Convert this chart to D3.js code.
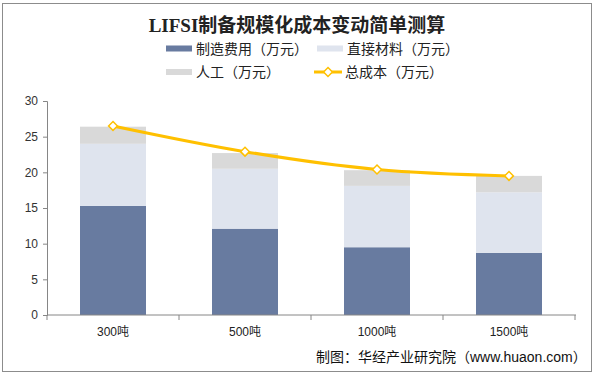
<!DOCTYPE html>
<html>
<head>
<meta charset="utf-8">
<script src="https://cdn.jsdelivr.net/npm/d3@7"></script>
<style>
  body { margin: 0; background: #fff; }
  svg { display: block; font-family: "Liberation Sans", "Noto Sans CJK SC", sans-serif; }
</style>
</head>
<body>
<svg id="chart" width="596" height="375"></svg>
<script>
const categories = ['300吨', '500吨', '1000吨', '1500吨'];
const manufacturing = [15.3, 12.1, 9.5, 8.7];
const materials = [8.7, 8.4, 8.6, 8.5];
const labor = [2.4, 2.2, 2.2, 2.3];
const total = [26.5, 22.9, 20.4, 19.5];
const yTicks = [0, 5, 10, 15, 20, 25, 30];

const seriesNames = ['制造费用（万元）', '直接材料（万元）', '人工（万元）'];
const seriesColors = ['#687ba0', '#dfe4ee', '#d9d9d9'];
const lineName = '总成本（万元）';
const lineColor = '#ffc000';

const svg = d3.select('#chart');

// outer frame
svg.append('rect')
  .attr('x', 2.5).attr('y', 3.5).attr('width', 589).attr('height', 368)
  .attr('fill', 'none').attr('stroke', '#8c8c8c');

const x = d3.scaleBand().domain(categories).range([47, 575]).paddingInner(0.5).paddingOuter(0.25);
const y = d3.scaleLinear().domain([0, 30]).range([315, 101]);

// title
svg.append('text')
  .attr('x', 297).attr('y', 32).attr('text-anchor', 'middle')
  .attr('font-family', '"Liberation Serif", "Noto Sans CJK SC", serif')
  .attr('font-weight', 'bold').attr('font-size', 19).attr('fill', '#222')
  .text('LIFSI制备规模化成本变动简单测算');

// stacked bars
const rows = categories.map((c, i) => ({ cat: c, s0: manufacturing[i], s1: materials[i], s2: labor[i] }));
const stack = d3.stack().keys(['s0', 's1', 's2'])(rows);
svg.append('g').selectAll('g').data(stack).join('g')
  .attr('fill', (d, i) => seriesColors[i])
  .selectAll('rect').data(d => d).join('rect')
  .attr('x', d => x(d.data.cat))
  .attr('width', x.bandwidth())
  .attr('y', d => y(d[1]))
  .attr('height', d => y(d[0]) - y(d[1]));

// axes
const yAxis = d3.axisLeft(y).tickValues(yTicks).tickSize(4).tickPadding(5);
const gy = svg.append('g').attr('transform', 'translate(47,0)').call(yAxis);
gy.select('.domain').attr('stroke', '#868686');
gy.selectAll('.tick line').attr('stroke', '#868686');
gy.selectAll('text').attr('font-size', 12).attr('fill', '#333');

const gx = svg.append('g').attr('transform', 'translate(0,315)');
gx.append('line').attr('x1', 47).attr('x2', 576).attr('stroke', '#868686');
const bounds = d3.range(categories.length + 1).map(i => 47 + i * (528 / categories.length));
gx.selectAll('.tk').data(bounds).join('line')
  .attr('x1', d => d).attr('x2', d => d).attr('y1', 0).attr('y2', 5)
  .attr('stroke', '#868686');
gx.selectAll('.lbl').data(categories).join('text')
  .attr('x', d => x(d) + x.bandwidth() / 2).attr('y', 21)
  .attr('text-anchor', 'middle').attr('font-size', 12).attr('fill', '#222')
  .text(d => d);

// total cost line
const pts = categories.map((c, i) => [x(c) + x.bandwidth() / 2, y(total[i])]);
svg.append('path')
  .attr('d', d3.line().curve(d3.curveMonotoneX)(pts))
  .attr('fill', 'none').attr('stroke', lineColor).attr('stroke-width', 3);
const diamond = d3.symbol().type(d3.symbolDiamond2).size(50);
svg.selectAll('.mk').data(pts).join('path')
  .attr('transform', d => `translate(${d[0]},${d[1]})`)
  .attr('d', diamond).attr('fill', '#fff').attr('stroke', lineColor).attr('stroke-width', 1.5);

// legend
const legend = svg.append('g').attr('font-size', 14).attr('fill', '#222');
const legendItems = [
  { name: seriesNames[0], color: seriesColors[0], x: 166, y: 48.5 },
  { name: seriesNames[1], color: seriesColors[1], x: 317, y: 48.5 },
  { name: seriesNames[2], color: seriesColors[2], x: 166, y: 72 }
];
legendItems.forEach(it => {
  legend.append('rect').attr('x', it.x).attr('y', it.y - 3).attr('width', 26).attr('height', 6).attr('fill', it.color);
  legend.append('text').attr('x', it.x + 30).attr('y', it.y + 5).text(it.name);
});
legend.append('line').attr('x1', 314).attr('x2', 342).attr('y1', 72).attr('y2', 72)
  .attr('stroke', lineColor).attr('stroke-width', 3);
legend.append('path').attr('transform', 'translate(328,72)').attr('d', diamond)
  .attr('fill', '#fff').attr('stroke', lineColor).attr('stroke-width', 1.5);
legend.append('text').attr('x', 345).attr('y', 77).text(lineName);

// source note
svg.append('text')
  .attr('x', 316).attr('y', 362).attr('font-size', 14).attr('fill', '#111')
  .text('制图：华经产业研究院（www.huaon.com）');
</script>
</body>
</html>
